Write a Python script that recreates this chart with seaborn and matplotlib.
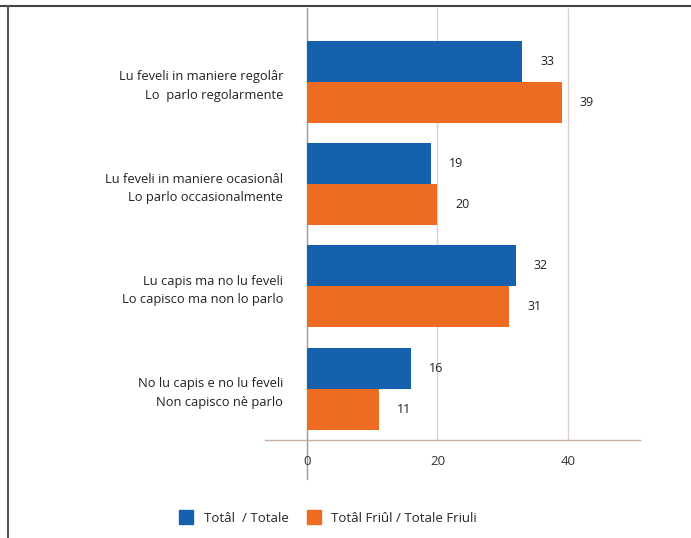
import numpy as np
import pandas as pd
import matplotlib
matplotlib.use("Agg")
import matplotlib.pyplot as plt
from matplotlib.lines import Line2D
import seaborn as sns

# --- data ---
categories = [
    "Lu feveli in maniere regolâr\nLo  parlo regolarmente",
    "Lu feveli in maniere ocasionâl\nLo parlo occasionalmente",
    "Lu capis ma no lu feveli\nLo capisco ma non lo parlo",
    "No lu capis e no lu feveli\nNon capisco nè parlo",
]
series_names = ["Totâl  / Totale", "Totâl Friûl / Totale Friuli"]
totale = [33, 19, 32, 16]
totale_friuli = [39, 20, 31, 11]
x_ticks = [0, 20, 40]

df = pd.DataFrame({
    "cat": categories * 2,
    "serie": [series_names[0]] * 4 + [series_names[1]] * 4,
    "val": totale + totale_friuli,
})

sns.set_theme(style="white")
plt.rcParams["font.family"] = ["Open Sans", "DejaVu Sans"]

BLUE = "#1661ad"
ORANGE = "#ee6c22"
TXT = "#222222"

fig = plt.figure(figsize=(6.91, 5.38), dpi=100)
ax = fig.add_axes([265 / 691, 1 - 440 / 538, 375 / 691, 432 / 538])

sns.barplot(data=df, y="cat", x="val", hue="serie", orient="h",
            palette=[BLUE, ORANGE], width=0.8, saturation=1,
            linewidth=0, legend=False, ax=ax)

for c in ax.containers:
    ax.bar_label(c, padding=13, fontsize=9, color=TXT)

ax.set_xlim(-6.4, 51)
ax.set_ylim(3.5, -0.72)
ax.set_xticks(x_ticks)
ax.set_xticklabels([str(t) for t in x_ticks], fontsize=9.5, color="#333333")
ax.tick_params(axis="x", length=0, pad=11)
ax.tick_params(axis="y", length=0, pad=-13, labelsize=9.3, colors=TXT)
for lbl in ax.get_yticklabels():
    lbl.set_multialignment("right")
    lbl.set_linespacing(1.55)
ax.set_xlabel("")
ax.set_ylabel("")

# gridlines and the zero line
for t in [20, 40]:
    ax.axvline(t, color="#dccfcf", lw=1, zorder=0)
ax.axvline(0, ymin=-0.09, ymax=1, color="#9a9a9a", lw=1, zorder=0, clip_on=False)

for s in ["top", "right", "left"]:
    ax.spines[s].set_visible(False)
ax.spines["bottom"].set_color("#c9aea6")
ax.spines["bottom"].set_linewidth(1)

# legend
handles = [Line2D([], [], marker="s", ls="", markersize=10, color=BLUE),
           Line2D([], [], marker="s", ls="", markersize=10, color=ORANGE)]
fig.legend(handles, series_names, loc="center", ncol=2, frameon=False,
           bbox_to_anchor=(0.47, 1 - 518 / 538), fontsize=9.5,
           handletextpad=0.3, columnspacing=0.9)

# page frame
fig.add_artist(Line2D([0, 1], [1 - 6 / 538, 1 - 6 / 538], transform=fig.transFigure,
                      color="#444444", lw=1.5))
fig.add_artist(Line2D([8 / 691, 8 / 691], [0, 1 - 6 / 538], transform=fig.transFigure,
                      color="#555555", lw=1.5))

fig.savefig("out.png", dpi=100)
